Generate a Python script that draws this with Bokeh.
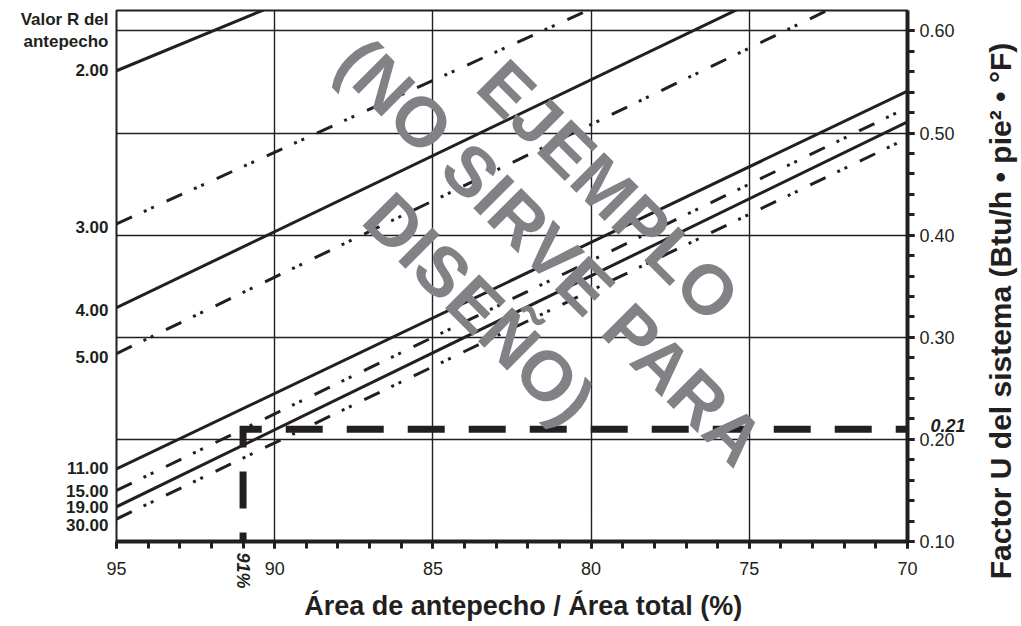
from bokeh.plotting import figure
from bokeh.layouts import row
from bokeh.models import Range1d, FixedTicker, Label, LinearAxis, Div
from bokeh.embed import file_html
from bokeh.resources import INLINE

# ---------------- data ----------------
pct_major = [95, 90, 85, 80, 75, 70]
pct_minor = [95, 94, 93, 92, 91, 90, 89, 88, 87, 86, 85, 84, 83, 82, 81, 80,
             79, 78, 77, 76, 75, 74, 73, 72, 71, 70]
u_major = [0.10, 0.20, 0.30, 0.40, 0.50, 0.60]
u_minor = [0.10, 0.12, 0.14, 0.16, 0.18, 0.20, 0.22, 0.24, 0.26, 0.28, 0.30,
           0.32, 0.34, 0.36, 0.38, 0.40, 0.42, 0.44, 0.46, 0.48, 0.50, 0.52,
           0.54, 0.56, 0.58, 0.60]

r_labels = ["2.00", "3.00", "4.00", "5.00", "11.00", "15.00", "19.00", "30.00"]
u_at_95 = [0.561, 0.411, 0.329, 0.284, 0.171, 0.150, 0.134, 0.122]
u_at_70 = [0.881, 0.762, 0.701, 0.658, 0.541, 0.525, 0.511, 0.495]

example_pct = 91
example_u = 0.21

x_title = "Área de antepecho / Área total (%)"
y_title = "Factor U del sistema (Btu/h • pie² • °F)"
r_title = ["Valor R del", "antepecho"]
watermark = ["EJEMPLO", "(NO SIRVE PARA", "DISEÑO)"]

# ---------------- style ----------------
INK = "#231f20"
FONT = "Liberation Sans"
GRAY = "#808285"
NBSP = "\u00a0"

X0, X1, Y0, Y1 = 95, 70, 0.10, 0.62
FW, FH = 791, 531
PX = (Y1 - Y0) / FH  # data units per vertical pixel
MAIN_W, TITLE_W, H = 969, 52, 626

p = figure(width=MAIN_W, height=H, x_range=Range1d(X0, X1), y_range=Range1d(Y0, Y1),
           y_axis_location="right", output_backend="svg", toolbar_location=None,
           min_border_left=116, min_border_right=MAIN_W - 116 - FW, min_border_top=10,
           min_border_bottom=H - 10 - FH)
p.background_fill_color = "white"
p.border_fill_color = "white"
p.outline_line_color = INK
p.outline_line_width = 2

for ax, major, minor in ((p.xaxis[0], pct_major, pct_minor), (p.yaxis[0], u_major, u_minor)):
    ax.ticker = FixedTicker(ticks=major, minor_ticks=minor)
    ax.axis_line_color = INK
    ax.axis_line_width = 4
    ax.major_tick_line_color = INK
    ax.minor_tick_line_color = INK
    ax.major_tick_line_width = 3
    ax.minor_tick_line_width = 3
    ax.major_tick_in = 0
    ax.minor_tick_in = 0
    ax.major_tick_out = 7
    ax.minor_tick_out = 7
    ax.major_label_text_font = FONT
    ax.major_label_text_font_size = "18px"
    ax.major_label_text_color = INK

p.xaxis[0].major_label_overrides = {v: f"{v}" for v in pct_major}
p.xaxis[0].major_label_standoff = 13
p.yaxis[0].major_label_overrides = {v: f"{v:.2f}" for v in u_major}
p.yaxis[0].major_label_standoff = 5

p.xgrid.ticker = FixedTicker(ticks=pct_major)
p.ygrid.ticker = FixedTicker(ticks=u_major)
for g in (p.xgrid, p.ygrid):
    g.grid_line_color = INK
    g.grid_line_width = 1.4

# R-value lines: solid / dash-dot-dot alternating
dash_styles = ["solid", "17 13 3 5 3 14"]
for i in range(len(r_labels)):
    p.line([X0, X1], [u_at_95[i], u_at_70[i]], line_color=INK, line_width=3,
           line_dash=dash_styles[i % 2])

# example read-off line
p.line([example_pct, example_pct, X1], [Y0, example_u, example_u], line_color=INK,
       line_width=7, line_dash="37 24", line_dash_offset=28, line_join="miter")

# left axis: R-value labels at the start of each line + its two-line title
nudge_px = [0, -4, -3, -4, 0, -1, -1, -6]
left_ticks, left_text = [], {}
for lab, u, dy in zip(r_labels, u_at_95, nudge_px):
    t = u + dy * PX
    left_ticks.append(t)
    left_text[t] = lab
for lab, top_px in zip(r_title, (9, 31)):
    t = Y1 - top_px * PX
    left_ticks.append(t)
    left_text[t] = lab
left_ax = LinearAxis(ticker=FixedTicker(ticks=left_ticks), major_label_overrides=left_text,
                     axis_line_color=None, major_tick_line_color=None,
                     minor_tick_line_color=None, major_tick_out=0, major_tick_in=0,
                     major_label_standoff=8,
                     major_label_text_font=FONT, major_label_text_font_style="bold",
                     major_label_text_font_size="17px", major_label_text_color=INK)
p.add_layout(left_ax, "left")

# outer bottom axis: example percentage + x title
pct_ax = LinearAxis(ticker=FixedTicker(ticks=[example_pct]),
                    major_label_overrides={example_pct: f"{example_pct}%"},
                    axis_line_color=None, major_tick_line_color=None,
                    minor_tick_line_color=None, major_label_orientation="vertical",
                    major_label_standoff=-31, major_label_text_font=FONT,
                    major_label_text_font_style="bold italic",
                    major_label_text_font_size="18px", major_label_text_color=INK,
                    axis_label=NBSP * 3 + x_title, axis_label_standoff=-1,
                    axis_label_text_font=FONT, axis_label_text_font_style="bold",
                    axis_label_text_font_size="27px", axis_label_text_color=INK)
p.add_layout(pct_ax, "below")

# outer right axis: example U value label
u_tick = example_u + 4 * PX
u_ax = LinearAxis(ticker=FixedTicker(ticks=[u_tick]),
                  major_label_overrides={u_tick: f"{example_u:.2f}"},
                  axis_line_color=None, major_tick_line_color=None,
                  minor_tick_line_color=None, major_label_standoff=-33,
                  major_label_text_font=FONT, major_label_text_font_style="bold italic",
                  major_label_text_font_size="18px", major_label_text_color=INK)
p.add_layout(u_ax, "right")


# watermark (inside the frame)
def sx(v):
    return (v - X0) / (X1 - X0) * FW


def sy(v):
    return (v - Y0) / (Y1 - Y0) * FH


wm_pos = [(79.45, 0.4434), (81.28, 0.3838), (83.53, 0.328)]
for t, (wx, wy) in zip(watermark, wm_pos):
    p.add_layout(Label(x=sx(wx), y=sy(wy), x_units="screen", y_units="screen", text=t,
                       text_align="center", text_baseline="middle", angle=-45,
                       angle_units="deg", text_font=FONT, text_font_style="bold",
                       text_font_size="70px", text_color=GRAY))

# right-hand title strip: rotated HTML text, centred at page (1001, 311)
title_html = (
    f'<div style="position:relative;width:{TITLE_W}px;height:{H}px;">'
    f'<div style="position:absolute;left:{1001 - MAIN_W}px;top:311px;'
    f'transform:translate(-50%,-50%) rotate(-90deg);white-space:nowrap;'
    f"font-family:'{FONT}';font-weight:bold;font-size:30px;line-height:1;"
    f'color:{INK};">{y_title}</div></div>'
)
title_div = Div(text=title_html, width=TITLE_W, height=H, margin=0)

layout = row(p, title_div, spacing=0)
open("out.html", "w").write(file_html(layout, INLINE))
